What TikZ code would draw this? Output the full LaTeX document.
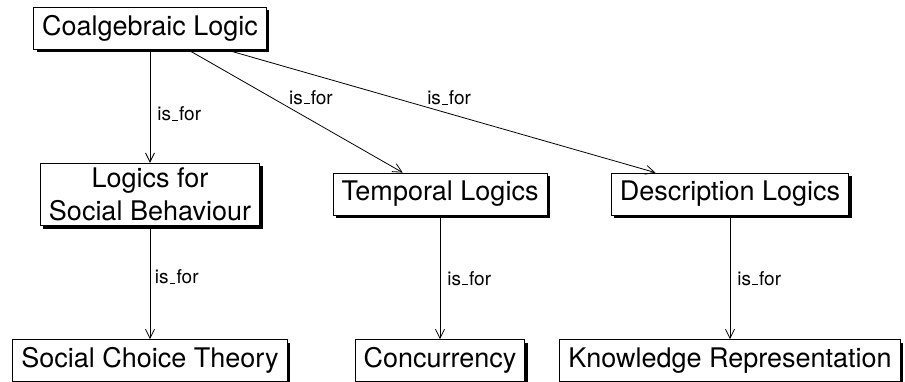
\documentclass[tikz,border=0pt]{standalone}
\usepackage{fontspec}
\setmainfont{TeX Gyre Heros}
\usetikzlibrary{arrows.meta,shadows}
\newcommand\isfor{is\kern.06em\rule{.3em}{1.3pt}\kern.06em for}
\tikzset{
 box/.style={draw, line width=0.8pt, fill=white, inner xsep=8.5pt, inner ysep=5pt,
   minimum height=42pt, align=center, font=\fontsize{27}{32.4}\selectfont,
   drop shadow={shadow xshift=3pt, shadow yshift=-3pt, opacity=1, fill=black}},
 rel/.style={draw, line width=0.8pt, -{Straight Barb[length=9pt,width=9pt]}},
 lab/.style={inner sep=0pt, font=\fontsize{19}{22}\selectfont},
}
\begin{document}
\begin{tikzpicture}[x=1pt,y=-1pt]
\useasboundingbox (0,0) rectangle (905,382);
\node[box] (coal) at (150,28) {Coalgebraic Logic};
\node[box] (lsb) at (150,194.5) {Logics for\\Social Behaviour};
\node[box] (temp) at (440,194) {Temporal Logics};
\node[box] (desc) at (730,194) {Description Logics};
\node[box] (sct) at (150,360.5) {Social Choice Theory};
\node[box] (conc) at (440,360.5) {Concurrency};
\node[box] (kr) at (730,360.5) {Knowledge Representation};
\draw[rel] (coal) -- node[lab, pos=0.57, right=7pt] {\isfor} (lsb);
\draw[rel] (coal) -- node[lab, pos=0.574, above=15pt] {\isfor} (temp);
\draw[rel] (coal) -- node[lab, pos=0.521, above=8pt] {\isfor} (desc);
\draw[rel] (lsb) -- node[lab, pos=0.45, right=4.5pt] {\isfor} (sct);
\draw[rel] (temp) -- node[lab, pos=0.51, right=7pt] {\isfor} (conc);
\draw[rel] (desc) -- node[lab, pos=0.51, right=7pt] {\isfor} (kr);
\end{tikzpicture}
\end{document}
